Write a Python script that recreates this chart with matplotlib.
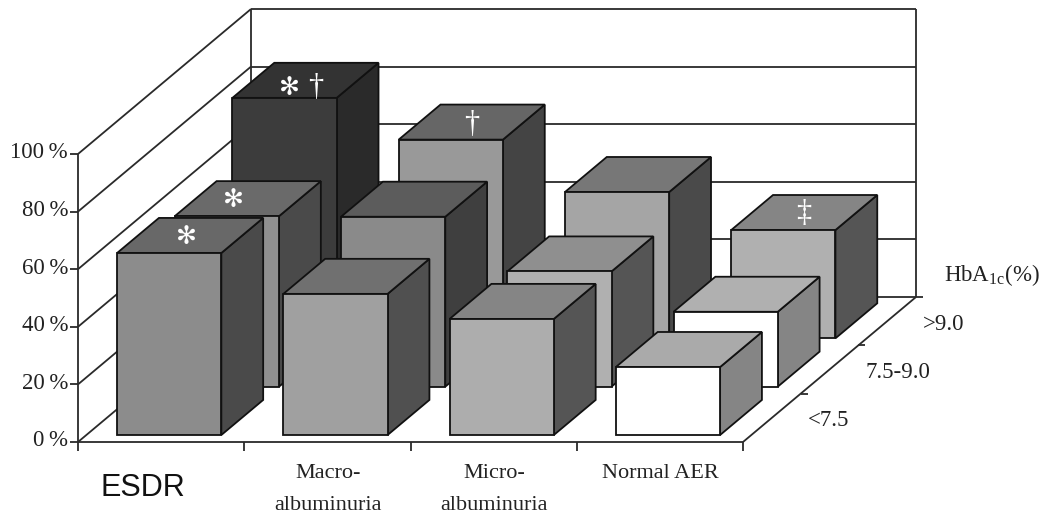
import matplotlib as mpl
mpl.use('Agg')
import matplotlib.pyplot as plt
from matplotlib.patches import Polygon

mpl.rcParams['font.family'] = 'Liberation Serif'
mpl.rcParams['mathtext.fontset'] = 'custom'
mpl.rcParams['mathtext.rm'] = 'Liberation Serif'

# percent of patients, [category][row] with row 0 = front (<7.5)
esdr = [63.2, 59.2, 83.5]
macro = [49.0, 59.0, 69.0]
micro = [40.3, 40.0, 50.8]
normal = [23.6, 26.0, 37.6]
series = [esdr, macro, micro, normal]

y_ticks = [0, 20, 40, 60, 80, 100]
row_labels = ['<7.5', '7.5-9.0', '>9.0']

# face shades per bar
front_cols = [['#8c8c8c', '#909090', '#3c3c3c'],
              ['#a0a0a0', '#8a8a8a', '#999999'],
              ['#adadad', '#b0b0b0', '#a5a5a5'],
              ['#ffffff', '#ffffff', '#b0b0b0']]
top_cols = [['#686868', '#6a6a6a', '#333333'],
            ['#707070', '#5c5c5c', '#666666'],
            ['#858585', '#8f8f8f', '#777777'],
            ['#aaaaaa', '#b0b0b0', '#858585']]
side_cols = [['#4a4a4a', '#4a4a4a', '#2a2a2a'],
             ['#505050', '#3f3f3f', '#444444'],
             ['#555555', '#555555', '#4a4a4a'],
             ['#858585', '#858585', '#555555']]

# oblique projection, pixels of the picture
X0, Y0 = 78.0, 442.0
CAT_W = 166.25
ROW_DX, ROW_DY = 57.67, 48.33
PX_PER_PCT = 2.88

def proj(c, r, z=0):
    return (X0 + c * CAT_W + r * ROW_DX, Y0 - z * PX_PER_PCT - r * ROW_DY)

fig = plt.figure(figsize=(10.48, 5.22), dpi=100)
ax = fig.add_axes([0, 0, 1, 1])
ax.set_xlim(0, 1048)
ax.set_ylim(522, 0)
ax.axis('off')

line_c = '#2a2a2a'
axis_kw = dict(color=line_c, lw=1.3, solid_capstyle='butt', zorder=1)

def seg(a, b):
    ax.plot([a[0], b[0]], [a[1], b[1]], **axis_kw)

# walls and floor
for v in y_ticks:
    seg(proj(0, 0, v), proj(0, 3, v))
    seg(proj(0, 3, v), proj(4, 3, v))
    x, y = proj(0, 0, v)
    seg((x - 8, y), (x, y))
    ax.text(x - 10, y - 1, '%d\u2009%%' % v, ha='right', va='center', fontsize=16.5, color='#222222')
seg(proj(0, 0), proj(0, 0, 100))
seg(proj(0, 3), proj(0, 3, 100))
seg(proj(4, 3), proj(4, 3, 100))
seg(proj(0, 0), proj(4, 0))
seg(proj(4, 0), proj(4, 3))
for c in range(5):
    x, y = proj(c, 0)
    seg((x, y), (x, y + 9))
for r in range(1, 4):
    x, y = proj(4, r)
    seg((x, y), (x + 7, y))

# bars, back row first
bar_kw = dict(edgecolor='#111111', lw=1.3, joinstyle='miter', zorder=2)
for r in [2, 1, 0]:
    for c in range(4):
        h = series[c][r]
        c0, c1 = c + 0.185, c + 0.812
        r0, r1 = r + 0.145, r + 0.87
        ax.add_patch(Polygon([proj(c1, r0), proj(c1, r1), proj(c1, r1, h), proj(c1, r0, h)],
                             facecolor=side_cols[c][r], **bar_kw))
        ax.add_patch(Polygon([proj(c0, r0, h), proj(c1, r0, h), proj(c1, r1, h), proj(c0, r1, h)],
                             facecolor=top_cols[c][r], **bar_kw))
        ax.add_patch(Polygon([proj(c0, r0), proj(c1, r0), proj(c1, r0, h), proj(c0, r0, h)],
                             facecolor=front_cols[c][r], **bar_kw))

# significance marks on the top faces: category, row, offset in px, symbol
marks = [(0, 0, -4, 0, '\u273b'), (0, 1, -14, 0, '\u273b'), (0, 2, -16, 6, '\u273b'),
         (0, 2, 10, 7, '\u2020'), (1, 2, 0, 2, '\u2020'), (3, 2, 0, 1, '\u2021')]
for c, r, dx, dy, sym in marks:
    x, y = proj(c + 0.5, r + 0.5, series[c][r])
    if sym == '\u273b':
        ax.text(x + dx, y + dy + 1, sym, ha='center', va='center', color='white', fontsize=18,
                family='DejaVu Sans', zorder=3)
    else:
        ax.text(x + dx, y + dy, sym, ha='center', va='center', color='white', fontsize=22, zorder=3)

# category labels
txt = '#222222'
ax.text(143, 488, 'ESDR', ha='center', va='center', fontsize=22, family='Liberation Sans', color='#111111')
ax.text(328, 473, 'Macro-', ha='center', va='center', fontsize=16, color=txt)
ax.text(328, 506, 'albuminuria', ha='center', va='center', fontsize=16, color=txt)
ax.text(494, 473, 'Micro-', ha='center', va='center', fontsize=16, color=txt)
ax.text(494, 506, 'albuminuria', ha='center', va='center', fontsize=16, color=txt)
ax.text(660, 473, 'Normal AER', ha='center', va='center', fontsize=16, color=txt)

# row labels
for r, lab in enumerate(row_labels):
    x, y = proj(4, r + 0.5)
    ax.text(x + 36, y + 3, lab, ha='left', va='center', fontsize=16.5, color=txt)
ax.text(944, 275, r'HbA$_{\mathrm{1c}}$(%)', ha='left', va='center', fontsize=16.5, color=txt)

fig.savefig('out.png', dpi=100)
plt.close()
